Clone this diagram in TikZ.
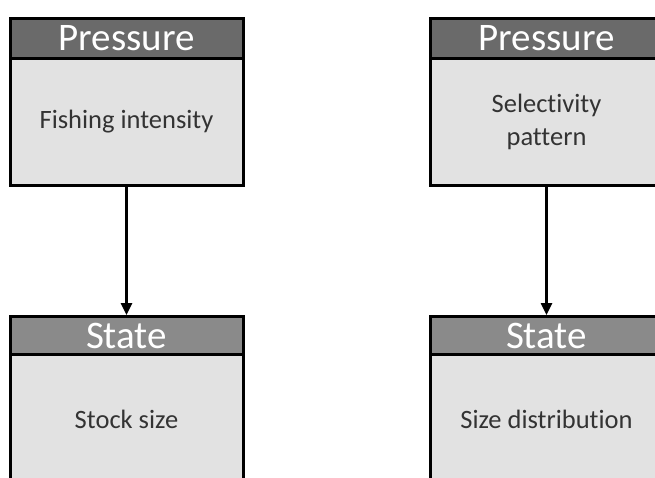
\documentclass[tikz,border=0pt]{standalone}
\usepackage{fontspec}
\setmainfont{Carlito}[Ligatures=NoCommon]
\usetikzlibrary{arrows.meta}
\definecolor{hdrdark}{HTML}{6A6A6A}
\definecolor{hdrlight}{HTML}{8A8A8A}
\definecolor{bodyfill}{HTML}{E2E2E2}
\begin{document}
\begin{tikzpicture}[x=1pt,y=-1pt,
  hdr/.style={draw=black, line width=3pt, fill=#1, text=white,
    font=\fontsize{39}{39}\selectfont, minimum width=233pt, inner sep=0pt, anchor=north},
  bodybox/.style={draw=black, line width=3pt, fill=bodyfill, text=black!80,
    font=\fontsize{26.5}{33}\selectfont, minimum width=233pt, inner sep=0pt, align=center, anchor=north},
  conn/.style={line width=2.5pt, -{Triangle[length=12pt,width=11pt]}}]
\useasboundingbox (0,0) rectangle (655,477);
\fill[white] (0,0) rectangle (655,477);
\clip (0,0) rectangle (655,477);
% top-left
\node[bodybox, minimum height=127pt] (b1) at (126.5,57) {Fishing intensity};
\node[hdr=hdrdark, minimum height=40pt] (h1) at (126.5,17) {Pressure};
% top-right
\node[bodybox, minimum height=127pt] (b2) at (546.5,57) {Selectivity\\pattern};
\node[hdr=hdrdark, minimum height=40pt] (h2) at (546.5,17) {Pressure};
% bottom-left
\node[bodybox, minimum height=130pt] (b3) at (126.5,353) {Stock size};
\node[hdr=hdrlight, minimum height=38pt] (h3) at (126.5,315) {State};
% bottom-right
\node[bodybox, minimum height=130pt] (b4) at (546.5,353) {Size distribution};
\node[hdr=hdrlight, minimum height=38pt] (h4) at (546.5,315) {State};
% connectors
\draw[conn] (b1.south) -- (h3.north);
\draw[conn] (b2.south) -- (h4.north);
\end{tikzpicture}
\end{document}
